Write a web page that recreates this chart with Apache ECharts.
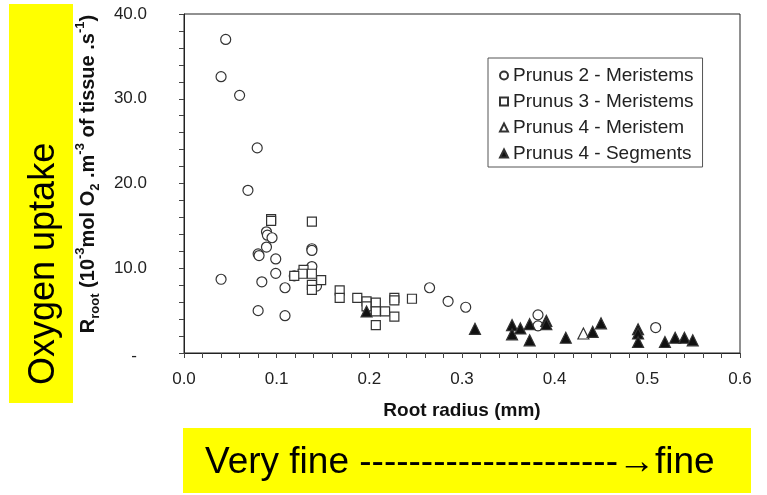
<!DOCTYPE html>
<html>
<head>
<meta charset="utf-8">
<script src="https://cdn.jsdelivr.net/npm/echarts@6/dist/echarts.min.js"></script>
<style>
html,body{margin:0;padding:0;background:#fff;}
#c{width:767px;height:495px;}
</style>
</head>
<body>
<div id="c"></div>
<script>
// ---- data ----
var seriesNames = ['Prunus 2 - Meristems', 'Prunus 3 - Meristems', 'Prunus 4 - Meristem', 'Prunus 4 - Segments'];
var prunus2Meristems = [
  [0.045, 37.0], [0.040, 32.6], [0.060, 30.4], [0.079, 24.2], [0.069, 19.2],
  [0.089, 14.3], [0.090, 13.9], [0.095, 13.6], [0.089, 12.5], [0.080, 11.7], [0.081, 11.5],
  [0.138, 12.3], [0.138, 12.1], [0.099, 11.1], [0.138, 10.2], [0.099, 9.4], [0.119, 9.1],
  [0.143, 7.9], [0.040, 8.7], [0.084, 8.4], [0.109, 7.7], [0.080, 5.0], [0.109, 4.4],
  [0.265, 7.7], [0.285, 6.1], [0.304, 5.4], [0.382, 4.5], [0.382, 3.2], [0.509, 3.0]
];
var prunus3Meristems = [
  [0.094, 15.8], [0.094, 15.6], [0.138, 15.5], [0.129, 9.8], [0.128, 9.35], [0.119, 9.1],
  [0.138, 9.35], [0.148, 8.6], [0.138, 8.05], [0.138, 7.45], [0.168, 7.4], [0.168, 6.5],
  [0.187, 6.5], [0.197, 6.1], [0.197, 5.5], [0.207, 5.95], [0.207, 4.9], [0.217, 4.9],
  [0.207, 3.3], [0.227, 6.5], [0.227, 6.2], [0.227, 4.3], [0.246, 6.4]
];
var prunus4Meristem = [
  [0.431, 2.3]
];
var prunus4Segments = [
  [0.197, 4.9], [0.314, 2.85], [0.354, 3.3], [0.354, 2.2], [0.363, 2.9], [0.373, 3.4],
  [0.373, 1.5], [0.391, 3.8], [0.391, 3.4], [0.412, 1.8], [0.441, 2.5], [0.450, 3.5],
  [0.490, 2.8], [0.490, 2.3], [0.490, 1.3], [0.519, 1.3], [0.530, 1.8], [0.540, 1.8], [0.549, 1.5]
];
var xTicks = [0, 0.1, 0.2, 0.3, 0.4, 0.5, 0.6];
var yTicks = [0, 10, 20, 30, 40];
var xAxisTitle = 'Root radius (mm)';
var sideLabel = 'Oxygen uptake';
var bottomLabel = 'Very fine ---------------------\u2192fine';

// ---- chart ----
var FONT = '"Liberation Sans", Arial, sans-serif';
var chart = echarts.init(document.getElementById('c'), null, {renderer: 'canvas'});
var stroke = '#333';

function mkSeries(name, data, symbol, size, fill) {
  return {
    name: name, type: 'scatter', data: data, symbol: symbol, symbolSize: size,
    itemStyle: {color: fill, borderColor: stroke, borderWidth: 1.2, opacity: 1},
    emphasis: {disabled: true}, z: 3
  };
}

chart.setOption({
  animation: false,
  backgroundColor: '#fff',
  grid: {left: 184, right: 27, top: 14, bottom: 142, show: true, borderColor: '#222', borderWidth: 1, backgroundColor: 'transparent'},
  xAxis: {
    type: 'value', min: xTicks[0], max: xTicks[xTicks.length - 1], interval: 0.1,
    axisLine: {show: true, lineStyle: {color: '#222', width: 1}},
    axisTick: {show: true, length: 5, lineStyle: {color: '#444'}},
    minorTick: {show: true, splitNumber: 5, length: 5, lineStyle: {color: '#444'}},
    splitLine: {show: false},
    axisLabel: {fontFamily: FONT, fontSize: 17, color: '#222', margin: 18, formatter: function (v) { return v.toFixed(1); }},
    name: xAxisTitle, nameLocation: 'middle', nameGap: 48,
    nameTextStyle: {fontFamily: FONT, fontSize: 19, fontWeight: 'bold', color: '#111'}
  },
  yAxis: {
    type: 'value', min: yTicks[0], max: yTicks[yTicks.length - 1], interval: 10,
    axisLine: {show: true, lineStyle: {color: '#222', width: 1}},
    axisTick: {show: true, length: 5, lineStyle: {color: '#444'}},
    minorTick: {show: true, splitNumber: 5, length: 5, lineStyle: {color: '#444'}},
    splitLine: {show: false},
    axisLabel: {
      fontFamily: FONT, fontSize: 17, color: '#222', margin: 37,
      formatter: function (v) { return v === 0 ? '{d|-}' : v.toFixed(1); },
      rich: {d: {fontFamily: FONT, fontSize: 17, color: '#222', padding: [6, 10, 0, 0]}}
    }
  },
  legend: {
    show: true, orient: 'vertical', left: 488, top: 58,
    data: seriesNames,
    borderColor: '#555', borderWidth: 1, backgroundColor: '#fff',
    padding: [8, 9, 4, 11], itemGap: 7, itemWidth: 8, itemHeight: 8,
    textStyle: {fontFamily: FONT, fontSize: 19, color: '#222', lineHeight: 18}
  },
  series: [
    mkSeries(seriesNames[0], prunus2Meristems, 'circle', 10, '#fff'),
    mkSeries(seriesNames[1], prunus3Meristems, 'rect', 9, '#fff'),
    mkSeries(seriesNames[2], prunus4Meristem, 'triangle', 11, '#fff'),
    mkSeries(seriesNames[3], prunus4Segments, 'triangle', 11, '#111')
  ],
  graphic: [
    {type: 'rect', left: 9, top: 4, shape: {width: 64, height: 399}, style: {fill: '#ffff00'}, z: 0},
    {type: 'text', x: 44, y: 385, rotation: Math.PI / 2, z: 1,
     style: {text: sideLabel, font: '36px ' + FONT, fill: '#000', textAlign: 'left', textVerticalAlign: 'middle'}},
    {type: 'rect', left: 183, top: 428, shape: {width: 568, height: 65}, style: {fill: '#ffff00'}, z: 0},
    {type: 'text', x: 205, y: 463, z: 1,
     style: {text: bottomLabel, font: '37px ' + FONT, fill: '#000', textAlign: 'left', textVerticalAlign: 'middle'}},
    {type: 'text', x: 88, y: 174, rotation: Math.PI / 2, z: 1,
     style: {
       text: '{m|R}{sub|root}{m| (10}{sup|-3}{m|mol O}{sub|2}{m| .m}{sup|-3}{m| of tissue .s}{sup|-1}{m|)}',
       textAlign: 'center', textVerticalAlign: 'middle', fill: '#111',
       rich: {
         m: {fontFamily: FONT, fontSize: 20, fontWeight: 'bold', lineHeight: 28, fill: '#111', color: '#111'},
         sub: {fontFamily: FONT, fontSize: 13, fontWeight: 'bold', lineHeight: 16, verticalAlign: 'bottom', fill: '#111', color: '#111'},
         sup: {fontFamily: FONT, fontSize: 13, fontWeight: 'bold', lineHeight: 16, verticalAlign: 'top', fill: '#111', color: '#111'}
       }
     }}
  ]
});
</script>
</body>
</html>
